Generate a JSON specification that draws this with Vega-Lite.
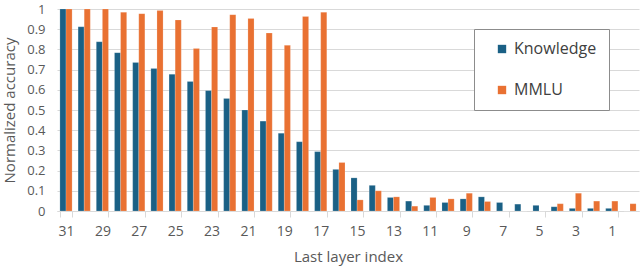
{
  "$schema": "https://vega.github.io/schema/vega-lite/v6.json",
  "width": 582,
  "height": 202,
  "autosize": {"type": "none"},
  "padding": {"left": 57, "top": 9, "right": 1, "bottom": 55},
  "config": {
    "font": "Open Sans",
    "view": {"stroke": null},
    "axis": {"labelColor": "#595959", "titleColor": "#595959", "labelFont": "Open Sans", "titleFont": "Open Sans"}
  },
  "data": {
    "values": [
      {"layer": 31, "series": "Knowledge", "value": 1.0},
      {"layer": 30, "series": "Knowledge", "value": 0.912},
      {"layer": 29, "series": "Knowledge", "value": 0.838},
      {"layer": 28, "series": "Knowledge", "value": 0.784},
      {"layer": 27, "series": "Knowledge", "value": 0.735},
      {"layer": 26, "series": "Knowledge", "value": 0.705},
      {"layer": 25, "series": "Knowledge", "value": 0.677},
      {"layer": 24, "series": "Knowledge", "value": 0.641},
      {"layer": 23, "series": "Knowledge", "value": 0.596},
      {"layer": 22, "series": "Knowledge", "value": 0.557},
      {"layer": 21, "series": "Knowledge", "value": 0.5},
      {"layer": 20, "series": "Knowledge", "value": 0.445},
      {"layer": 19, "series": "Knowledge", "value": 0.385},
      {"layer": 18, "series": "Knowledge", "value": 0.343},
      {"layer": 17, "series": "Knowledge", "value": 0.294},
      {"layer": 16, "series": "Knowledge", "value": 0.206},
      {"layer": 15, "series": "Knowledge", "value": 0.164},
      {"layer": 14, "series": "Knowledge", "value": 0.127},
      {"layer": 13, "series": "Knowledge", "value": 0.067},
      {"layer": 12, "series": "Knowledge", "value": 0.049},
      {"layer": 11, "series": "Knowledge", "value": 0.028},
      {"layer": 10, "series": "Knowledge", "value": 0.042},
      {"layer": 9, "series": "Knowledge", "value": 0.06},
      {"layer": 8, "series": "Knowledge", "value": 0.07},
      {"layer": 7, "series": "Knowledge", "value": 0.042},
      {"layer": 6, "series": "Knowledge", "value": 0.034},
      {"layer": 5, "series": "Knowledge", "value": 0.028},
      {"layer": 4, "series": "Knowledge", "value": 0.021},
      {"layer": 3, "series": "Knowledge", "value": 0.013},
      {"layer": 2, "series": "Knowledge", "value": 0.013},
      {"layer": 1, "series": "Knowledge", "value": 0.013},
      {"layer": 0, "series": "Knowledge", "value": 0},
      {"layer": 31, "series": "MMLU", "value": 1.0},
      {"layer": 30, "series": "MMLU", "value": 1.0},
      {"layer": 29, "series": "MMLU", "value": 1.0},
      {"layer": 28, "series": "MMLU", "value": 0.984},
      {"layer": 27, "series": "MMLU", "value": 0.977},
      {"layer": 26, "series": "MMLU", "value": 0.992},
      {"layer": 25, "series": "MMLU", "value": 0.946},
      {"layer": 24, "series": "MMLU", "value": 0.805},
      {"layer": 23, "series": "MMLU", "value": 0.911},
      {"layer": 22, "series": "MMLU", "value": 0.972},
      {"layer": 21, "series": "MMLU", "value": 0.953},
      {"layer": 20, "series": "MMLU", "value": 0.881},
      {"layer": 19, "series": "MMLU", "value": 0.82},
      {"layer": 18, "series": "MMLU", "value": 0.963},
      {"layer": 17, "series": "MMLU", "value": 0.984},
      {"layer": 16, "series": "MMLU", "value": 0.24},
      {"layer": 15, "series": "MMLU", "value": 0.055},
      {"layer": 14, "series": "MMLU", "value": 0.1},
      {"layer": 13, "series": "MMLU", "value": 0.07},
      {"layer": 12, "series": "MMLU", "value": 0.024},
      {"layer": 11, "series": "MMLU", "value": 0.067},
      {"layer": 10, "series": "MMLU", "value": 0.06},
      {"layer": 9, "series": "MMLU", "value": 0.088},
      {"layer": 8, "series": "MMLU", "value": 0.047},
      {"layer": 7, "series": "MMLU", "value": 0},
      {"layer": 6, "series": "MMLU", "value": 0},
      {"layer": 5, "series": "MMLU", "value": 0},
      {"layer": 4, "series": "MMLU", "value": 0.036},
      {"layer": 3, "series": "MMLU", "value": 0.088},
      {"layer": 2, "series": "MMLU", "value": 0.049},
      {"layer": 1, "series": "MMLU", "value": 0.049},
      {"layer": 0, "series": "MMLU", "value": 0.036}
    ]
  },
  "mark": {"type": "bar", "stroke": "#ffffff", "strokeWidth": 0.3, "strokeOpacity": 0.6},
  "encoding": {
    "x": {
      "field": "layer",
      "type": "ordinal",
      "sort": "descending",
      "scale": {"paddingInner": 0.33, "paddingOuter": 0.16},
      "axis": {
        "title": "Last layer index",
        "titleFontSize": 15,
        "titleFontWeight": "normal",
        "titlePadding": 11,
        "labelFontSize": 14,
        "labelAngle": 0,
        "labelPadding": 7,
        "values": [31, 29, 27, 25, 23, 21, 19, 17, 15, 13, 11, 9, 7, 5, 3, 1],
        "tickBand": "extent",
        "tickColor": "#d9d9d9",
        "tickSize": 6,
        "domainColor": "#d9d9d9",
        "grid": false
      }
    },
    "xOffset": {"field": "series", "type": "nominal", "scale": {"paddingInner": 0, "paddingOuter": 0}},
    "y": {
      "field": "value",
      "type": "quantitative",
      "scale": {"domain": [0, 1], "nice": false},
      "axis": {
        "title": "Normalized accuracy",
        "titleFontSize": 15,
        "titleFontWeight": "normal",
        "titlePadding": 9,
        "labelFontSize": 13,
        "labelPadding": 12,
        "values": [0, 0.1, 0.2, 0.3, 0.4, 0.5, 0.6, 0.7, 0.8, 0.9, 1],
        "format": ".1~f",
        "domain": false,
        "ticks": false,
        "gridColor": "#d9d9d9",
        "gridWidth": 1
      }
    },
    "color": {
      "field": "series",
      "type": "nominal",
      "scale": {"domain": ["Knowledge", "MMLU"], "range": ["#1a6085", "#E97132"]},
      "legend": {
        "title": null,
        "orient": "none",
        "legendX": 417,
        "legendY": 20,
        "symbolType": "square",
        "symbolSize": 70,
        "symbolStrokeWidth": 0,
        "symbolOffset": 8,
        "labelFontSize": 16,
        "labelColor": "#404040",
        "labelOffset": 4,
        "rowPadding": 25,
        "padding": 12,
        "strokeColor": "#8c8c8c",
        "fillColor": "#ffffff"
      }
    }
  }
}
